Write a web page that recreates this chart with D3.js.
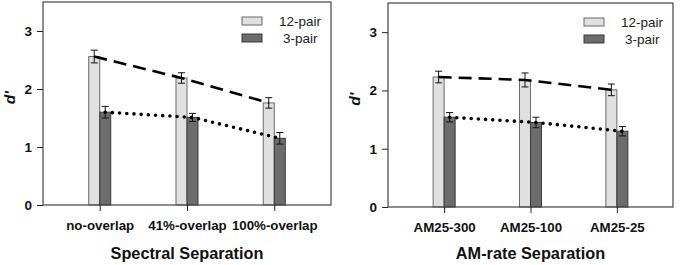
<!DOCTYPE html>
<html>
<head>
<meta charset="utf-8">
<script src="https://cdn.jsdelivr.net/npm/d3@7"></script>
<style>
  body { margin: 0; background: #fff; }
  svg { font-family: Arial, "Liberation Sans", sans-serif; }
</style>
</head>
<body>
<div id="chart"></div>
<script>
var width = 680, height = 265;

// data
var series = ["12-pair", "3-pair"];
var yTicks = [0, 1, 2, 3];

var spectralCats = ["no-overlap", "41%-overlap", "100%-overlap"];
var spectral12 = [2.56, 2.19, 1.76];
var spectral12Err = [0.11, 0.09, 0.09];
var spectral3 = [1.60, 1.51, 1.15];
var spectral3Err = [0.10, 0.07, 0.10];

var amCats = ["AM25-300", "AM25-100", "AM25-25"];
var am12 = [2.23, 2.18, 2.01];
var am12Err = [0.10, 0.12, 0.10];
var am3 = [1.54, 1.45, 1.30];
var am3Err = [0.08, 0.09, 0.08];

var fills = ["#e0e0e0", "#6c6c6c"];
var strokes = ["#6a6a6a", "#3a3a3a"];

var svg = d3.select("#chart").append("svg")
            .attr("width", width)
            .attr("height", height);

function drawPanel(p) {
    var g = svg.append("g");

    var x = d3.scalePoint().domain(p.cats).range([p.left, p.right]).padding(0.65);
    var y = d3.scaleLinear().domain([0, 3.5]).range([p.bottom, p.top]);
    var barW = 11;

    var rows = [];
    p.cats.forEach(function(c, i) {
        rows.push({cat: c, s: 0, v: p.v12[i], e: p.e12[i]});
        rows.push({cat: c, s: 1, v: p.v3[i], e: p.e3[i]});
    });
    function cx(d) { return x(d.cat) + (d.s == 0 ? -barW / 2 : barW / 2); }

    // bars
    g.selectAll(".bar").data(rows).join("rect")
        .attr("x", function(d) { return cx(d) - barW / 2; })
        .attr("y", function(d) { return y(d.v); })
        .attr("width", barW)
        .attr("height", function(d) { return y(0) - y(d.v); })
        .attr("fill", function(d) { return fills[d.s]; })
        .attr("stroke", function(d) { return strokes[d.s]; })
        .attr("stroke-width", 1);

    // error bars
    var eb = g.append("g").attr("stroke", "#111").attr("stroke-width", 1);
    rows.forEach(function(d) {
        var xc = cx(d);
        eb.append("line").attr("x1", xc).attr("x2", xc).attr("y1", y(d.v - d.e)).attr("y2", y(d.v + d.e));
        eb.append("line").attr("x1", xc - 3.5).attr("x2", xc + 3.5).attr("y1", y(d.v - d.e)).attr("y2", y(d.v - d.e));
        eb.append("line").attr("x1", xc - 3.5).attr("x2", xc + 3.5).attr("y1", y(d.v + d.e)).attr("y2", y(d.v + d.e));
    });

    // trend lines
    var line = d3.line().x(function(d) { return cx(d); }).y(function(d) { return y(d.v); });
    g.append("path")
        .datum(rows.filter(function(d) { return d.s == 0; }))
        .attr("d", line)
        .attr("fill", "none")
        .attr("stroke", "#000")
        .attr("stroke-width", 2.6)
        .attr("stroke-dasharray", "13,7");
    g.append("path")
        .datum(rows.filter(function(d) { return d.s == 1; }))
        .attr("d", line)
        .attr("fill", "none")
        .attr("stroke", "#000")
        .attr("stroke-width", 3.6)
        .attr("stroke-linecap", "round")
        .attr("stroke-dasharray", "0,7.2");

    // frame
    g.append("rect")
        .attr("x", p.left).attr("y", p.top)
        .attr("width", p.right - p.left).attr("height", p.bottom - p.top)
        .attr("fill", "none").attr("stroke", "#444").attr("stroke-width", 1.2);

    // y axis
    var yAxis = g.append("g")
        .attr("transform", "translate(" + p.left + ",0)")
        .call(d3.axisLeft(y).tickValues(yTicks).tickFormat(d3.format("d")).tickSize(6).tickPadding(5));
    yAxis.select(".domain").remove();
    yAxis.selectAll("line").attr("stroke", "#222");
    yAxis.selectAll("text").attr("font-size", 13.5).attr("font-weight", "bold")
        .attr("font-family", "Arial, 'Liberation Sans', sans-serif").attr("fill", "#111");

    // x axis
    var xAxis = g.append("g")
        .attr("transform", "translate(0," + p.bottom + ")")
        .call(d3.axisBottom(x).tickSize(6).tickPadding(10));
    xAxis.select(".domain").remove();
    xAxis.selectAll("line").attr("stroke", "#222");
    xAxis.selectAll("text").attr("font-size", 13.3).attr("font-weight", "bold")
        .attr("font-family", "Arial, 'Liberation Sans', sans-serif").attr("fill", "#111");

    // axis titles
    g.append("text")
        .attr("x", (p.left + p.right) / 2).attr("y", 259)
        .attr("text-anchor", "middle")
        .attr("font-size", 16.3).attr("font-weight", "bold").attr("fill", "#111")
        .text(p.title);
    g.append("text")
        .attr("transform", "translate(" + (p.left - 28) + "," + y(1.85) + ") rotate(-90)")
        .attr("text-anchor", "middle")
        .attr("font-size", 15.5).attr("font-weight", "bold").attr("font-style", "italic").attr("fill", "#111")
        .text("d'");

    // legend
    var leg = g.append("g").attr("transform", "translate(" + (p.right - 89) + "," + (p.top + 15) + ")");
    series.forEach(function(s, i) {
        leg.append("rect")
            .attr("x", 0).attr("y", i * 17)
            .attr("width", 20).attr("height", 8)
            .attr("fill", fills[i]).attr("stroke", strokes[i]);
        leg.append("text")
            .attr("x", i == 0 ? 37 : 41).attr("y", i * 17 + 9)
            .attr("font-size", 13.5).attr("fill", "#222")
            .text(s);
    });
}

drawPanel({cats: spectralCats, v12: spectral12, e12: spectral12Err, v3: spectral3, e3: spectral3Err,
           left: 43, right: 331, top: 2, bottom: 205, title: "Spectral Separation"});
drawPanel({cats: amCats, v12: am12, e12: am12Err, v3: am3, e3: am3Err,
           left: 388, right: 673, top: 3, bottom: 207, title: "AM-rate Separation"});
</script>
</body>
</html>
